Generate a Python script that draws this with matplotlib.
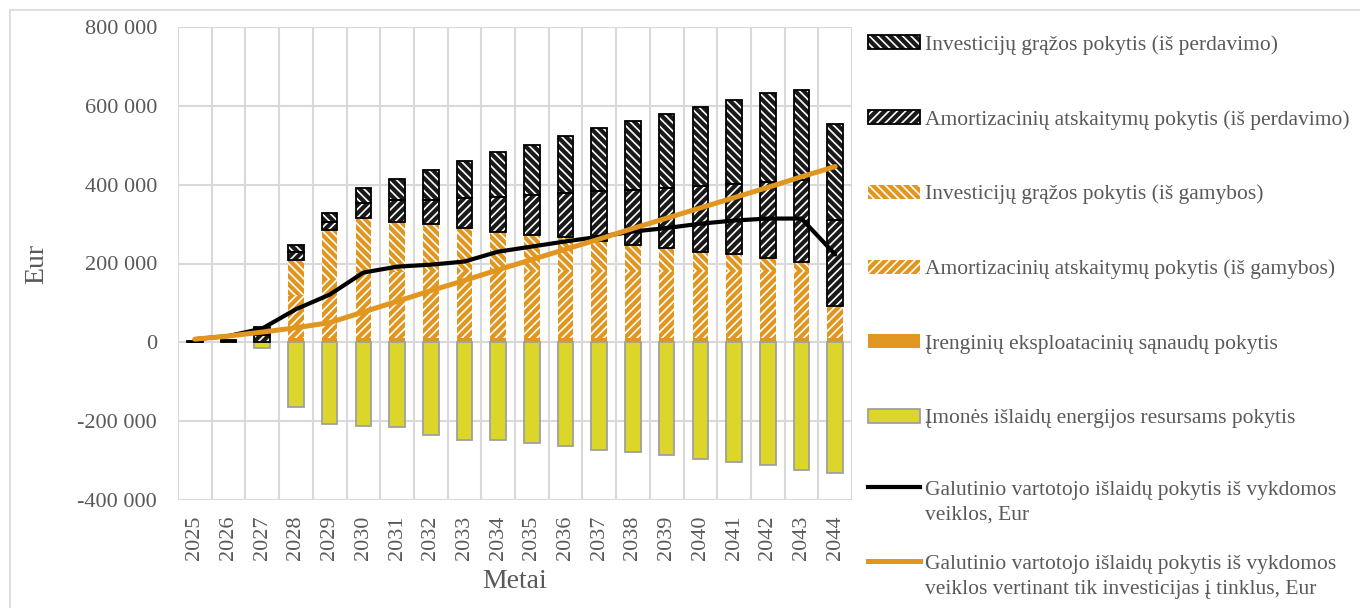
import numpy as np
import matplotlib.pyplot as plt
from matplotlib.patches import Patch
from matplotlib.lines import Line2D
from matplotlib.ticker import FuncFormatter, MultipleLocator

years = [str(y) for y in range(2025, 2045)]

# stacked bar components, Eur
irenginiu_sanaudos = [0, 0, 0, 12000, 12000, 12000, 12000, 12000, 12000, 12000,
                      12000, 12000, 12000, 12000, 12000, 12000, 12000, 12000, 12000, 12000]
amort_gamyba = [0, 0, 0, 108000, 148000, 163000, 166000, 168000, 168000, 168000,
                168000, 168000, 168000, 168000, 168000, 168000, 168000, 168000, 168000, 79000]
invest_gamyba = [0, 0, 0, 90000, 124000, 141000, 128000, 119000, 111000, 101000,
                 93000, 86000, 76000, 68000, 60000, 50000, 45000, 35000, 23000, 0]
amort_perdavimas = [2000, 3000, 18000, 18000, 22000, 38000, 54000, 63000, 74000, 87000,
                    102000, 114000, 127000, 139000, 152000, 166000, 177000, 192000, 209000, 220000]
invest_perdavimas = [2000, 3000, 20000, 18000, 21000, 38000, 55000, 76000, 96000, 115000,
                     126000, 144000, 161000, 175000, 188000, 202000, 213000, 226000, 228000, 244000]
energijos_islaidos = [0, 0, -15000, -163000, -206000, -212000, -216000, -236000, -248000, -248000,
                      -255000, -262000, -272000, -278000, -287000, -297000, -303000, -312000, -323000, -331000]

# consumer cost change lines, Eur
vartotojo_pokytis = [8000, 16000, 35000, 84000, 121000, 177000, 192000, 197000, 205000, 230000,
                     243000, 256000, 268000, 281000, 290000, 301000, 309000, 314000, 314000, 223000]
vartotojo_pokytis_tinklai = [8000, 16000, 26000, 37000, 50000, 77000, 104000, 131000, 157000, 184000,
                             210000, 236000, 262000, 289000, 315000, 341000, 367000, 393000, 420000, 446000]

ORANGE = "#E0961F"
BLACK = "#1A1A1A"
YELLOW = "#DCD62A"
YELLOW_EDGE = "#A0A0A0"
GREY_TXT = "#595959"
GRID = "#D9D9D9"

HATCH_INV = "\\" * 4
HATCH_AMORT = "/" * 4

plt.rcParams["font.family"] = ["Liberation Serif", "DejaVu Serif"]
plt.rcParams["hatch.linewidth"] = 1.2


def thousands(v, pos):
    return f"{v:,.0f}".replace(",", " ")


def draw_bars(ax, x, width):
    series = [
        (irenginiu_sanaudos, ORANGE, None, False),
        (amort_gamyba, ORANGE, HATCH_AMORT, False),
        (invest_gamyba, ORANGE, HATCH_INV, False),
        (amort_perdavimas, BLACK, HATCH_AMORT, True),
        (invest_perdavimas, BLACK, HATCH_INV, True),
    ]
    bottom = np.zeros(len(x))
    for values, color, hatch, outlined in series:
        values = np.array(values, dtype=float)
        ax.bar(x, values, width, bottom=bottom, color=color, hatch=hatch,
               edgecolor="white" if hatch else color, linewidth=0, zorder=2)
        if outlined:
            ax.bar(x, values, width, bottom=bottom, facecolor="none",
                   edgecolor="black", linewidth=1.3, zorder=3)
        bottom += values
    ax.bar(x, energijos_islaidos, width, color=YELLOW, edgecolor=YELLOW_EDGE,
           linewidth=1.3, zorder=2)


def hatched_black(hatch):
    return (Patch(facecolor=BLACK, edgecolor="white", hatch=hatch, linewidth=0),
            Patch(facecolor="none", edgecolor="black", linewidth=1.3))


def main():
    fig = plt.figure(figsize=(13.6, 6.08), dpi=100)
    ax = fig.add_axes([178 / 1360, 108 / 608, 674 / 1360, 473 / 608])

    x = np.arange(len(years))
    width = 0.46
    draw_bars(ax, x, width)

    ax.plot(x, vartotojo_pokytis, color="black", linewidth=3.0, zorder=5,
            solid_capstyle="round", solid_joinstyle="round")
    ax.plot(x, vartotojo_pokytis_tinklai, color=ORANGE, linewidth=3.6, zorder=6,
            solid_capstyle="round", solid_joinstyle="round")

    ax.set_xlim(-0.5, len(years) - 0.5)
    ax.set_ylim(-400000, 800000)
    ax.yaxis.set_major_locator(MultipleLocator(200000))
    ax.yaxis.set_major_formatter(FuncFormatter(thousands))
    ax.set_xticks(x)
    ax.set_xticklabels(years, rotation=90)
    ax.set_xticks(np.arange(len(years) + 1) - 0.5, minor=True)

    ax.grid(True, axis="y", which="major", color=GRID, linewidth=1.5, zorder=0)
    ax.grid(True, axis="x", which="minor", color=GRID, linewidth=1.5, zorder=0)
    ax.grid(False, axis="x", which="major")
    ax.tick_params(axis="both", which="both", length=0, labelsize=16, colors=GREY_TXT)
    ax.tick_params(axis="y", pad=15)
    ax.tick_params(axis="x", pad=11)
    for side in ax.spines.values():
        side.set_visible(False)

    ax.set_xlabel("Metai", fontsize=20, color=GREY_TXT, labelpad=7)
    ax.set_ylabel("Eur", fontsize=20, color=GREY_TXT, labelpad=20)

    bar_handles = [
        hatched_black(HATCH_INV),
        hatched_black(HATCH_AMORT),
        Patch(facecolor=ORANGE, edgecolor="white", hatch=HATCH_INV, linewidth=0),
        Patch(facecolor=ORANGE, edgecolor="white", hatch=HATCH_AMORT, linewidth=0),
        Patch(facecolor=ORANGE, edgecolor=ORANGE, linewidth=0),
        Patch(facecolor=YELLOW, edgecolor=YELLOW_EDGE, linewidth=1.3),
    ]
    bar_labels = [
        "Investicijų grąžos pokytis (iš perdavimo)",
        "Amortizacinių atskaitymų pokytis (iš perdavimo)",
        "Investicijų grąžos pokytis (iš gamybos)",
        "Amortizacinių atskaitymų pokytis (iš gamybos)",
        "Įrenginių eksploatacinių sąnaudų pokytis",
        "Įmonės išlaidų energijos resursams pokytis",
    ]
    line_handles = [
        Line2D([], [], color="black", linewidth=3.0),
        Line2D([], [], color=ORANGE, linewidth=3.6),
    ]
    line_labels = [
        "Galutinio vartotojo išlaidų pokytis iš vykdomos\nveiklos, Eur",
        "Galutinio vartotojo išlaidų pokytis iš vykdomos\nveiklos vertinant tik investicijas į tinklus, Eur",
    ]
    common = dict(loc="upper left", frameon=False, fontsize=15.5, handlelength=2.4,
                  handleheight=0.6, handletextpad=0.25, borderaxespad=0, borderpad=0)
    leg1 = fig.legend(bar_handles, bar_labels, bbox_to_anchor=(868 / 1360, 1 - 35 / 608),
                      labelspacing=2.56, **common)
    leg2 = fig.legend(line_handles, line_labels, bbox_to_anchor=(868 / 1360, 1 - 481 / 608),
                      labelspacing=1.4, **common)
    for leg in (leg1, leg2):
        for t in leg.get_texts():
            t.set_color(GREY_TXT)
            t.set_linespacing(1.42)
    # line markers sit beside the first text row
    for h in leg2.legend_handles:
        h.set_ydata(np.asarray(h.get_ydata()) + 11)

    # thin frame around the whole chart
    fig.add_artist(Line2D([10 / 1360, 1], [1 - 10 / 608, 1 - 10 / 608], color=GRID, linewidth=1.2))
    fig.add_artist(Line2D([10 / 1360, 10 / 1360], [0, 1 - 10 / 608], color=GRID, linewidth=1.2))

    fig.savefig("out.png", dpi=100)


if __name__ == "__main__":
    main()
